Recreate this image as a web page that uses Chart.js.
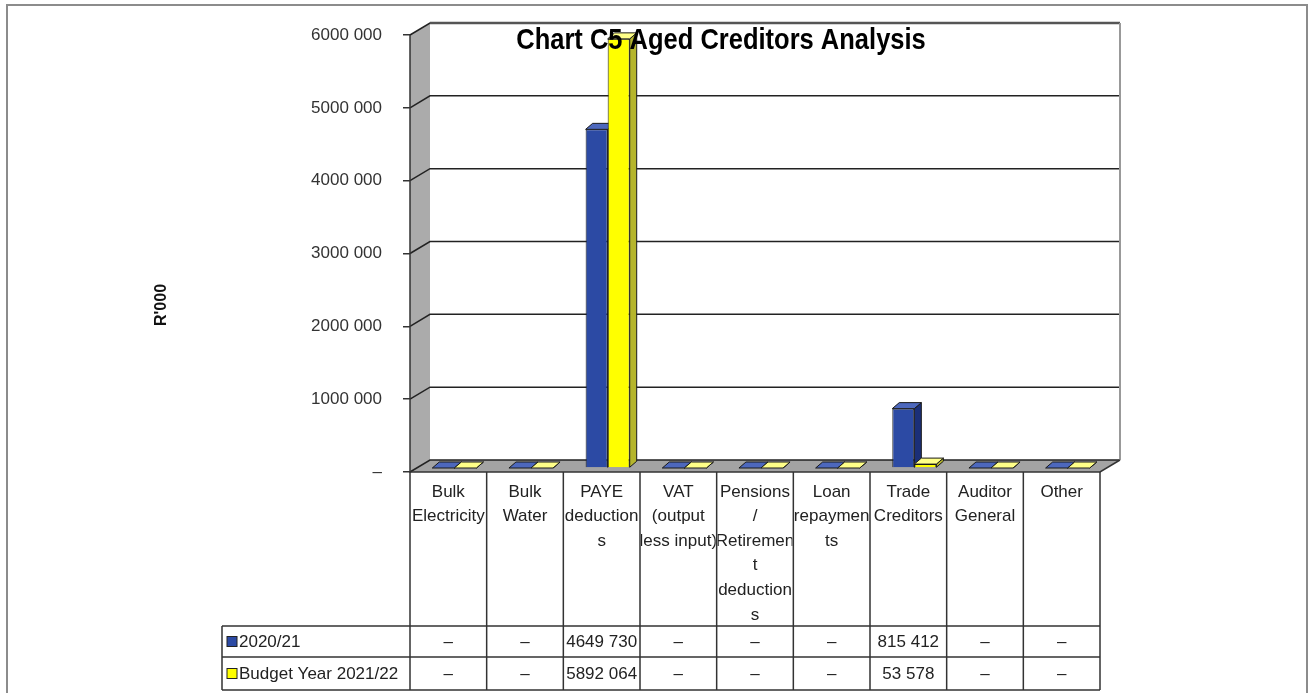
<!DOCTYPE html>
<html>
<head>
<meta charset="utf-8">
<script src="https://cdn.jsdelivr.net/npm/chart.js@4.4.0/dist/chart.umd.min.js"></script>
<style>
body { margin: 0; background: #fff; }
</style>
</head>
<body>
<canvas id="mycanvas" width="1312" height="693"></canvas>
<script>
// data
var categories = [
	['Bulk', 'Electricity'],
	['Bulk', 'Water'],
	['PAYE', 'deduction', 's'],
	['VAT', '(output', 'less input)'],
	['Pensions', '/', 'Retiremen', 't', 'deduction', 's'],
	['Loan', 'repaymen', 'ts'],
	['Trade', 'Creditors'],
	['Auditor', 'General'],
	['Other']
];
var seriesNames = ['2020/21', 'Budget Year 2021/22'];
var values2021 = [0, 0, 4649730, 0, 0, 0, 815412, 0, 0];
var values2122 = [0, 0, 5892064, 0, 0, 0, 53578, 0, 0];
var yTickValues = [0, 1000000, 2000000, 3000000, 4000000, 5000000, 6000000];
var chartTitle = 'Chart C5 Aged Creditors Analysis';
var yTitle = "R'000";

var FONT = '"Liberation Sans", Arial, sans-serif';
var BLUE = '#2c4aa4', BLUE_TOP = '#4d68bd', BLUE_SIDE = '#1b2f78';
var YEL = '#ffff00', YEL_TOP = '#ffff88', YEL_SIDE = '#b5b52c';
var DX = 20, DY = -12;      // depth of the walls
var BDX = 7, BDY = -6;      // depth of each bar
var SHIFT_X = 6, SHIFT_Y = -4;

function fmt(v) {
	if (!v) return '\u2013';
	var hi = Math.floor(v / 1000), lo = String(v % 1000);
	while (lo.length < 3) lo = '0' + lo;
	return hi > 0 ? hi + ' ' + lo : String(v % 1000);
}

function poly(ctx, pts, fill, stroke) {
	ctx.beginPath();
	ctx.moveTo(pts[0][0], pts[0][1]);
	for (var i = 1; i < pts.length; i++) ctx.lineTo(pts[i][0], pts[i][1]);
	ctx.closePath();
	ctx.fillStyle = fill;
	ctx.fill();
	if (stroke) {
		ctx.strokeStyle = stroke;
		ctx.lineWidth = 1;
		ctx.stroke();
	}
}

// top and right faces of each bar of one dataset
function faces(ctx, meta, index) {
	var top = index === 0 ? BLUE_TOP : YEL_TOP;
	var side = index === 0 ? BLUE_SIDE : YEL_SIDE;
	meta.data.forEach(function(bar) {
		var l = bar.x - bar.width / 2, r = bar.x + bar.width / 2;
		poly(ctx, [[r, bar.y], [r + BDX, bar.y + BDY], [r + BDX, bar.base + BDY], [r, bar.base]], side, '#1a1a1a');
		poly(ctx, [[l, bar.y], [l + BDX, bar.y + BDY], [r + BDX, bar.y + BDY], [r, bar.y]], top, '#1a1a1a');
	});
}

var excel3d = {
	id: 'excel3d',
	beforeDraw: function(chart) {
		var ctx = chart.ctx, a = chart.chartArea, y = chart.scales.y;
		ctx.save();
		ctx.fillStyle = '#fff';
		ctx.fillRect(0, 0, chart.width, chart.height);
		// outer frame
		ctx.strokeStyle = '#8c8c8c';
		ctx.lineWidth = 2;
		ctx.beginPath();
		ctx.moveTo(7, 693); ctx.lineTo(7, 5); ctx.lineTo(1307, 5); ctx.lineTo(1307, 693);
		ctx.stroke();

		// side wall
		poly(ctx, [[a.left, a.top], [a.left + DX, a.top + DY], [a.left + DX, a.bottom + DY], [a.left, a.bottom]], '#ababab');
		// floor
		poly(ctx, [[a.left, a.bottom], [a.right, a.bottom], [a.right + DX, a.bottom + DY], [a.left + DX, a.bottom + DY]], '#a3a3a3');

		// grid on back wall + diagonals on side wall
		ctx.strokeStyle = '#222';
		ctx.lineWidth = 1.5;
		yTickValues.forEach(function(v) {
			if (v === 0) return;
			var py = y.getPixelForValue(v);
			ctx.beginPath();
			ctx.moveTo(a.left, py);
			ctx.lineTo(a.left + DX, py + DY);
			ctx.lineTo(a.right + DX, py + DY);
			ctx.stroke();
		});
		ctx.beginPath();
		ctx.moveTo(a.left, a.bottom);
		ctx.lineTo(a.left + DX, a.bottom + DY);
		ctx.lineTo(a.right + DX, a.bottom + DY);
		ctx.stroke();
		// wall edges
		ctx.strokeStyle = '#555';
		ctx.lineWidth = 2.5;
		ctx.beginPath();
		ctx.moveTo(a.left + DX, a.top + DY);
		ctx.lineTo(a.right + DX, a.top + DY);
		ctx.stroke();
		ctx.strokeStyle = '#999';
		ctx.lineWidth = 2;
		ctx.beginPath();
		ctx.moveTo(a.right + DX, a.top + DY);
		ctx.lineTo(a.right + DX, a.bottom + DY);
		ctx.stroke();
		ctx.strokeStyle = '#333';
		ctx.lineWidth = 1.5;
		ctx.beginPath();
		ctx.moveTo(a.left, a.top);
		ctx.lineTo(a.left, a.bottom);
		ctx.lineTo(a.right, a.bottom);
		ctx.lineTo(a.right + DX, a.bottom + DY);
		ctx.stroke();
		ctx.restore();
	},
	beforeDatasetsDraw: function(chart) {
		chart.ctx.save();
		chart.ctx.translate(SHIFT_X, SHIFT_Y);
	},
	// Chart.js paints the last dataset first; hold the yellow one back
	// so it lands in front of the blue bars, as in the Excel picture
	beforeDatasetDraw: function(chart, args) {
		if (args.index === 1) return false;
	},
	afterDatasetDraw: function(chart, args) {
		if (args.index !== 0) return;
		faces(chart.ctx, args.meta, 0);
		var yMeta = chart.getDatasetMeta(1);
		yMeta.controller.draw();
		faces(chart.ctx, yMeta, 1);
	},
	afterDatasetsDraw: function(chart) {
		chart.ctx.restore();
	},
	afterDraw: function(chart) {
		var ctx = chart.ctx, a = chart.chartArea, xs = chart.scales.x;
		var n = categories.length, colW = (a.right - a.left) / n;
		var hTop = a.bottom, r1 = 626, r2 = 657, r3 = 690, legL = 222;
		ctx.save();

		// title, drawn over the bars
		ctx.save();
		ctx.translate(721, 41);
		ctx.scale(0.85, 1);
		ctx.fillStyle = '#000';
		ctx.font = 'bold 30px ' + FONT;
		ctx.textAlign = 'center';
		ctx.textBaseline = 'middle';
		ctx.fillText(chartTitle, 0, 0);
		ctx.restore();

		// axis title
		ctx.save();
		ctx.translate(162, 305);
		ctx.rotate(-Math.PI / 2);
		ctx.fillStyle = '#111';
		ctx.font = 'bold 16px ' + FONT;
		ctx.textAlign = 'center';
		ctx.textBaseline = 'middle';
		ctx.fillText(yTitle, 0, 0);
		ctx.restore();

		// data table
		ctx.strokeStyle = '#333';
		ctx.lineWidth = 1.5;
		ctx.beginPath();
		for (var i = 0; i <= n; i++) {
			var lx = a.left + i * colW;
			ctx.moveTo(lx, hTop);
			ctx.lineTo(lx, r3);
		}
		[r1, r2, r3].forEach(function(ry) {
			ctx.moveTo(legL, ry);
			ctx.lineTo(a.right, ry);
		});
		ctx.moveTo(legL, r1);
		ctx.lineTo(legL, r3);
		ctx.stroke();

		ctx.font = '17px ' + FONT;
		ctx.fillStyle = '#222';
		ctx.textAlign = 'center';
		ctx.textBaseline = 'middle';
		var rows = [values2021, values2122];
		categories.forEach(function(lines, i) {
			var cx = xs.getPixelForValue(i);
			ctx.save();
			ctx.beginPath();
			ctx.rect(a.left + i * colW + 1, hTop, colW - 2, r3 - hTop);
			ctx.clip();
			lines.forEach(function(t, k) {
				ctx.fillText(t, cx, 492 + k * 24.6);
			});
			ctx.fillText(fmt(rows[0][i]), cx, (r1 + r2) / 2 + 1);
			ctx.fillText(fmt(rows[1][i]), cx, (r2 + r3) / 2 + 1);
			ctx.restore();
		});

		// row labels with legend keys
		var keys = [BLUE, YEL];
		ctx.textAlign = 'left';
		seriesNames.forEach(function(name, k) {
			var cy = k === 0 ? (r1 + r2) / 2 : (r2 + r3) / 2;
			ctx.fillStyle = keys[k];
			ctx.fillRect(227, cy - 5, 10, 10);
			ctx.strokeStyle = '#222';
			ctx.lineWidth = 1;
			ctx.strokeRect(227, cy - 5, 10, 10);
			ctx.fillStyle = '#222';
			ctx.fillText(name, 239, cy + 1);
		});
		ctx.restore();
	}
};

var ctx = document.getElementById('mycanvas');
var barGraph = new Chart(ctx, {
	type: 'bar',
	data: {
		labels: categories,
		datasets: [
			{
				label: seriesNames[0],
				data: values2021,
				backgroundColor: BLUE,
				borderColor: '#1a1a1a',
				borderWidth: 1
			},
			{
				label: seriesNames[1],
				data: values2122,
				backgroundColor: YEL,
				borderColor: '#1a1a1a',
				borderWidth: 1
			}
		]
	},
	options: {
		responsive: false,
		animation: false,
		layout: { padding: { left: 0, right: 212, top: 35, bottom: 221 } },
		datasets: { bar: { categoryPercentage: 0.575, barPercentage: 1 } },
		plugins: { legend: { display: false }, title: { display: false }, tooltip: { enabled: false } },
		scales: {
			x: { display: false },
			y: {
				min: 0,
				max: 6000000,
				afterBuildTicks: function(s) {
					s.ticks = yTickValues.map(function(v) { return { value: v }; });
				},
				afterFit: function(s) { s.width = 410; },
				ticks: {
					callback: function(v) { return fmt(v); },
					color: '#333',
					font: { size: 17, family: FONT },
					padding: 21
				},
				grid: { drawOnChartArea: false, drawTicks: true, tickLength: 7, color: '#333', lineWidth: 1.5 },
				border: { display: false }
			}
		}
	},
	plugins: [excel3d]
});
</script>
</body>
</html>
